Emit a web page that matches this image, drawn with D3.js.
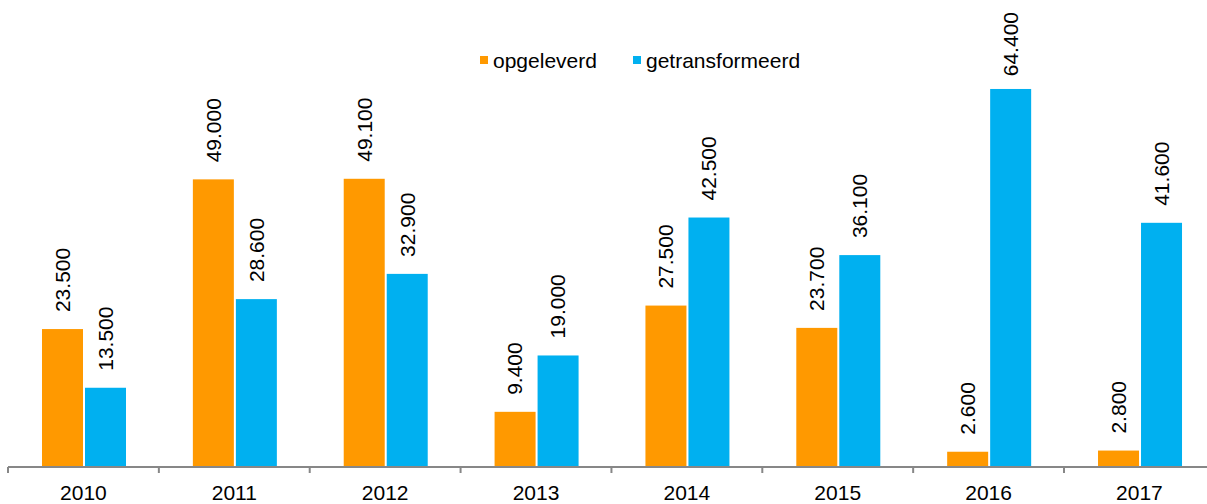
<!DOCTYPE html>
<html>
<head>
<meta charset="utf-8">
<script src="https://cdn.jsdelivr.net/npm/d3@7"></script>
<style>
  body { margin: 0; background: #fff; }
  svg { display: block; font-family: Arial, "Liberation Sans", sans-serif; }
</style>
</head>
<body>
<div id="chart"></div>
<script>
// Woningen opgeleverd vs getransformeerd per jaar
const years = ["2010", "2011", "2012", "2013", "2014", "2015", "2016", "2017"];
const seriesNames = ["opgeleverd", "getransformeerd"];
const opgeleverd = [23500, 49000, 49100, 9400, 27500, 23700, 2600, 2800];
const getransformeerd = [13500, 28600, 32900, 19000, 42500, 36100, 64400, 41600];
const colors = ["#FF9900", "#00B0F0"];

const width = 1207, height = 504;
const baseY = 467;

// Dutch number format: 23.500
const nl = d3.formatLocale({ decimal: ",", thousands: ".", grouping: [3], currency: ["€", ""] });
const fmt = nl.format(",");

const svg = d3.select("#chart").append("svg")
    .attr("width", width)
    .attr("height", height);

const x0 = d3.scaleBand()
    .domain(years)
    .range([8, 8 + 8 * 150.86]);

const x1 = d3.scaleBand()
    .domain(seriesNames)
    .range([34, 118])
    .paddingInner(2 / 43);

const y = d3.scaleLinear()
    .domain([0, 70000])
    .range([baseY, baseY - 70 * 5.87]);

const rows = years.map((yr, i) => ({
    year: yr,
    values: [
        { key: seriesNames[0], value: opgeleverd[i], color: colors[0] },
        { key: seriesNames[1], value: getransformeerd[i], color: colors[1] }
    ]
}));

const groups = svg.append("g")
    .selectAll("g")
    .data(rows)
    .join("g")
    .attr("transform", d => `translate(${x0(d.year)},0)`);

groups.selectAll("rect")
    .data(d => d.values)
    .join("rect")
    .attr("x", d => x1(d.key))
    .attr("y", d => y(d.value))
    .attr("width", x1.bandwidth())
    .attr("height", d => baseY - y(d.value))
    .attr("fill", d => d.color);

// rotated value labels above the bars (kept inside the top edge like Excel does)
groups.selectAll("text.val")
    .data(d => d.values)
    .join("text")
    .attr("class", "val")
    .attr("font-size", 21)
    .attr("fill", "#000")
    .attr("text-anchor", "start")
    .attr("dy", "0.35em")
    .text(d => fmt(d.value))
    .attr("transform", function(d) {
        const len = this.getComputedTextLength();
        let start = y(d.value) - 17;
        if (start - len < 12) start = 12 + len;
        const cx = x1(d.key) + x1.bandwidth() / 2;
        return `translate(${cx},${start}) rotate(-90)`;
    });

// x axis
const axis = svg.append("g")
    .attr("transform", `translate(0,${baseY})`);

axis.append("line")
    .attr("x1", 8)
    .attr("x2", width)
    .attr("stroke", "#878787")
    .attr("stroke-width", 2);

axis.selectAll("line.tick")
    .data(years)
    .join("line")
    .attr("class", "tick")
    .attr("x1", d => x0(d))
    .attr("x2", d => x0(d))
    .attr("y1", 0)
    .attr("y2", 6)
    .attr("stroke", "#878787")
    .attr("stroke-width", 2);

axis.selectAll("text")
    .data(years)
    .join("text")
    .attr("x", d => x0(d) + x0.bandwidth() / 2)
    .attr("y", 33)
    .attr("text-anchor", "middle")
    .attr("font-size", 21)
    .attr("fill", "#000")
    .text(d => d);

// legend
const legendItems = [
    { key: seriesNames[0], color: colors[0], x: 480 },
    { key: seriesNames[1], color: colors[1], x: 633 }
];
const legend = svg.append("g")
    .selectAll("g")
    .data(legendItems)
    .join("g")
    .attr("transform", d => `translate(${d.x},56)`);

legend.append("rect")
    .attr("width", 8)
    .attr("height", 8)
    .attr("fill", d => d.color);

legend.append("text")
    .attr("x", 13)
    .attr("y", 12)
    .attr("font-size", 21)
    .attr("fill", "#000")
    .text(d => d.key);
</script>
</body>
</html>
